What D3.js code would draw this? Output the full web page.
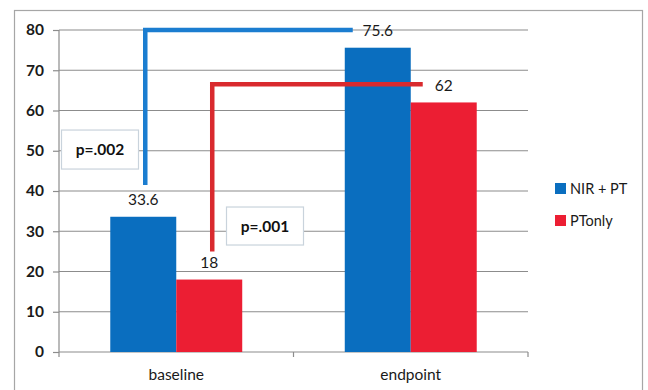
<!DOCTYPE html>
<html>
<head>
<meta charset="utf-8">
<script src="https://cdn.jsdelivr.net/npm/d3@7"></script>
<style>
  html, body { margin: 0; padding: 0; background: #fff; }
  svg { display: block; font-family: Lato, "Open Sans", sans-serif; }
</style>
</head>
<body>
<svg id="chart" width="648" height="390"></svg>
<script>
// Categories, series and values
const categories = ["baseline", "endpoint"];
const seriesNames = ["NIR + PT", "PTonly"];
const nirPT = [33.6, 75.6];
const ptOnly = [18, 62];
const yTicks = [0, 10, 20, 30, 40, 50, 60, 70, 80];
const pLabels = ["p=.002", "p=.001"];

const colors = ["#0a6ebf", "#ec1e33"];
const lineColors = ["#1b7dd0", "#d92a2e"];

const svg = d3.select("#chart");

// Outer chart frame
svg.append("rect")
  .attr("x", 14.5).attr("y", 10.5)
  .attr("width", 628).attr("height", 400)
  .attr("fill", "#fff")
  .attr("stroke", "#a6a6a6").attr("stroke-width", 1.2);

const plotLeft = 59, plotRight = 528, plotTop = 30, plotBottom = 352;

const x = d3.scaleBand().domain(categories).range([plotLeft, plotRight]).padding(0);
const xs = d3.scaleBand().domain(seriesNames).range([0, x.bandwidth()])
  .paddingInner(0).paddingOuter(0.777);
const y = d3.scaleLinear().domain([0, 80]).range([plotBottom, plotTop]);

// Horizontal gridlines
svg.append("g").selectAll("line")
  .data(yTicks.filter(d => d > 0))
  .join("line")
  .attr("x1", plotLeft).attr("x2", plotRight)
  .attr("y1", d => y(d)).attr("y2", d => y(d))
  .attr("stroke", "#8c8c8c").attr("stroke-width", 1.2);

// Y axis
const yAxis = svg.append("g")
  .attr("transform", `translate(${plotLeft},0)`)
  .call(d3.axisLeft(y).tickValues(yTicks).tickSize(6).tickPadding(9));
yAxis.selectAll("path, line").attr("stroke", "#8c8c8c").attr("stroke-width", 1.2);
yAxis.select(".domain").attr("d", `M0,${plotTop}V${plotBottom}`);
yAxis.selectAll("text")
  .attr("font-size", 15.5).attr("font-weight", "bold")
  .attr("fill", "#1a1a1a")
  .attr("font-family", "Lato, 'Open Sans', sans-serif");

// X axis with category dividers
const xAxis = svg.append("g")
  .attr("transform", `translate(0,${plotBottom})`);
xAxis.append("line")
  .attr("x1", plotLeft).attr("x2", plotRight)
  .attr("stroke", "#8c8c8c").attr("stroke-width", 1.2);
const dividers = [plotLeft, ...categories.map(c => x(c) + x.bandwidth())];
xAxis.selectAll(".div")
  .data(dividers)
  .join("line")
  .attr("class", "div")
  .attr("x1", d => d).attr("x2", d => d)
  .attr("y1", 0).attr("y2", 5)
  .attr("stroke", "#8c8c8c").attr("stroke-width", 1.2);
xAxis.selectAll("text")
  .data(categories)
  .join("text")
  .attr("x", d => x(d) + x.bandwidth() / 2)
  .attr("y", 28)
  .attr("text-anchor", "middle")
  .attr("font-size", 15.5)
  .attr("fill", "#1a1a1a")
  .text(d => d);

// Bars
const series = [nirPT, ptOnly];
const barData = [];
series.forEach((vals, si) => {
  vals.forEach((v, ci) => barData.push({ s: seriesNames[si], si, c: categories[ci], v }));
});
const barX = d => x(d.c) + xs(d.s);

svg.append("g").selectAll("rect")
  .data(barData)
  .join("rect")
  .attr("x", barX)
  .attr("y", d => y(d.v))
  .attr("width", xs.bandwidth())
  .attr("height", d => y(0) - y(d.v))
  .attr("fill", d => colors[d.si]);

// Value labels
svg.append("g").selectAll("text")
  .data(barData)
  .join("text")
  .attr("x", d => barX(d) + xs.bandwidth() / 2)
  .attr("y", d => y(d.v) - 11.5)
  .attr("text-anchor", "middle")
  .attr("font-size", 15.5)
  .attr("fill", "#1a1a1a")
  .text(d => d.v);

// Significance brackets: rise from the baseline bar, run over to the endpoint label
const brackets = [
  { si: 0, from: 41.5, to: 80, dx: 2, endGap: 25 },
  { si: 1, from: 25, to: 66.5, dx: 3, endGap: 21 }
];
svg.append("g").selectAll("path")
  .data(brackets)
  .join("path")
  .attr("d", b => {
    const x0 = x(categories[0]) + xs(seriesNames[b.si]) + xs.bandwidth() / 2 + b.dx;
    const x1 = x(categories[1]) + xs(seriesNames[b.si]) + xs.bandwidth() / 2 - b.endGap;
    return `M${x0},${y(b.from)}V${y(b.to)}H${x1}`;
  })
  .attr("fill", "none")
  .attr("stroke", b => lineColors[b.si])
  .attr("stroke-width", 4.5)
  .attr("stroke-linejoin", "miter");

// p-value boxes
const pBoxes = [
  { text: pLabels[0], cx: 100, cy: 50.3, w: 77, h: 39 },
  { text: pLabels[1], cx: 265, cy: 31.3, w: 77, h: 38 }
];
const pg = svg.append("g").selectAll("g")
  .data(pBoxes)
  .join("g");
pg.append("rect")
  .attr("x", d => d.cx - d.w / 2)
  .attr("y", d => y(d.cy) - d.h / 2)
  .attr("width", d => d.w).attr("height", d => d.h)
  .attr("fill", "#fff")
  .attr("stroke", "#c9d3dc").attr("stroke-width", 1.2);
pg.append("text")
  .attr("x", d => d.cx)
  .attr("y", d => y(d.cy) + 5.5)
  .attr("text-anchor", "middle")
  .attr("font-size", 15.5).attr("font-weight", "bold")
  .attr("fill", "#111")
  .text(d => d.text);

// Legend
const legend = svg.append("g").selectAll("g")
  .data(seriesNames)
  .join("g")
  .attr("transform", (d, i) => `translate(555,${183 + i * 32})`);
legend.append("rect")
  .attr("width", 11).attr("height", 11)
  .attr("fill", (d, i) => colors[i]);
legend.append("text")
  .attr("x", 15).attr("y", 11)
  .attr("font-size", 14.5)
  .attr("fill", "#1a1a1a")
  .text(d => d);
</script>
</body>
</html>
